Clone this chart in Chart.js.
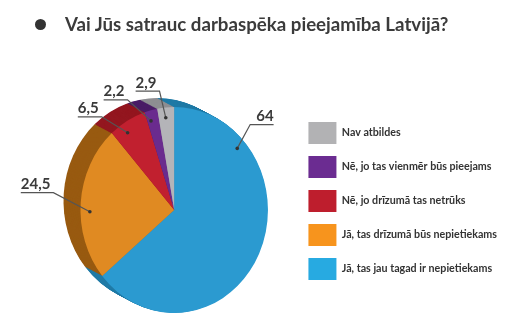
<!DOCTYPE html>
<html lang="lv">
<head>
<meta charset="utf-8">
<script src="https://cdn.jsdelivr.net/npm/chart.js@4.4.1/dist/chart.umd.min.js"></script>
<style>
  html, body { margin: 0; padding: 0; background: #fff; }
  #wrap { position: relative; width: 515px; height: 334px; }
  #virsraksts {
    position: absolute; left: 35px; top: 13px; margin: 0;
    font: 700 18.7px/22px Lato, sans-serif; color: #3b3b3b;
    display: flex; align-items: center; white-space: nowrap;
  }
  #virsraksts .punkts {
    width: 11px; height: 11px; border-radius: 50%; background: #333;
    margin-right: 19px; flex: none;
  }
  canvas { position: absolute; left: 0; top: 0; }
</style>
</head>
<body>
<div id="wrap">
  <canvas id="grafiks" width="515" height="334"></canvas>
  <h2 id="virsraksts"><span class="punkts"></span>Vai Jūs satrauc darbaspēka pieejamība Latvijā?</h2>
</div>
<script>
// dati
const kategorijas = [
  "Jā, tas jau tagad ir nepietiekams",
  "Jā, tas drīzumā būs nepietiekams",
  "Nē, jo drīzumā tas netrūks",
  "Nē, jo tas vienmēr būs pieejams",
  "Nav atbildes"
];
const vertibas = [64, 24.5, 6.5, 2.2, 2.9];
const etiketes = ["64", "24,5", "6,5", "2,2", "2,9"];

// krāsas
const virsmasKrasas = ["#2b9ad0", "#e08a22", "#c1202f", "#6a2b8e", "#b4b4b8"];
const sanuKrasas = ["#1f7aa6", "#985a10", "#93161f", "#4a1d66", "#8e8e92"];
const legendasKrasas = ["#27aae1", "#f7941d", "#be1e2d", "#6b2c91", "#b2b2b4"];

// etiķešu novietojums: daļa no sektora, leņķa nobīde (grādos), attālums (rādiusos)
const etiketesVieta = [0.21, 0.44, 0.35, 0.3, 0.45];
const etiketesNobide = [-4, 8.5, -7, -9, -2];
const etiketesAttalums = [1.16, 1.3, 1.19, 1.18, 1.165];

const SX = 0.91;      // elipses saspiedums horizontāli
const DZ_X = -17, DZ_Y = -9, SOLI = 24;

const dzilumsSpraudnis = {
  id: 'dzilums',
  beforeDatasetsDraw(chart) {
    const ctx = chart.ctx;
    const loki = chart.getDatasetMeta(0).data;
    if (!loki.length) return;
    const cx = loki[0].x, cy = loki[0].y;
    ctx.save();
    ctx.translate(cx, cy);
    ctx.scale(SX, 1);
    ctx.translate(-cx, -cy);
    for (let k = SOLI; k >= 1; k--) {
      const ox = DZ_X / SX * k / SOLI, oy = DZ_Y * k / SOLI;
      loki.forEach((loks, i) => {
        ctx.beginPath();
        ctx.moveTo(cx + ox, cy + oy);
        ctx.arc(cx + ox, cy + oy, loks.outerRadius, loks.startAngle, loks.endAngle);
        ctx.closePath();
        ctx.fillStyle = sanuKrasas[i];
        ctx.fill();
      });
    }
  },
  afterDatasetsDraw(chart) {
    chart.ctx.restore();
  }
};

const etiketesSpraudnis = {
  id: 'etiketes',
  afterDraw(chart) {
    const ctx = chart.ctx;
    const loki = chart.getDatasetMeta(0).data;
    ctx.save();
    ctx.font = '700 15px Lato, sans-serif';
    loki.forEach((loks, i) => {
      const cx = loks.x, cy = loks.y, R = loks.outerRadius;
      const a = loks.startAngle + (loks.endAngle - loks.startAngle) * etiketesVieta[i];
      const px = cx + Math.cos(a) * R * 0.9 * SX;
      const py = cy + Math.sin(a) * R * 0.9;
      const b = a + etiketesNobide[i] * Math.PI / 180;
      const ex = cx + Math.cos(b) * R * etiketesAttalums[i] * SX;
      const ey = cy + Math.sin(b) * R * etiketesAttalums[i];
      const tw = ctx.measureText(etiketes[i]).width;
      const palabi = Math.cos(b) > 0;
      const x2 = palabi ? ex + tw + 6 : ex - tw - 3;

      ctx.strokeStyle = '#555';
      ctx.lineWidth = 1.2;
      ctx.beginPath();
      ctx.moveTo(px, py);
      ctx.lineTo(ex, ey);
      ctx.lineTo(x2, ey);
      ctx.stroke();

      ctx.fillStyle = '#333';
      ctx.beginPath();
      ctx.arc(px, py, 1.8, 0, Math.PI * 2);
      ctx.fill();

      ctx.fillStyle = '#3a3a3a';
      ctx.textBaseline = 'alphabetic';
      ctx.textAlign = palabi ? 'right' : 'left';
      ctx.fillText(etiketes[i], x2, ey - 3.5);
    });
    ctx.restore();
  }
};

new Chart(document.getElementById('grafiks'), {
  type: 'pie',
  data: {
    labels: kategorijas,
    datasets: [{
      data: vertibas,
      backgroundColor: virsmasKrasas,
      borderWidth: 0,
      clip: false
    }]
  },
  options: {
    responsive: false,
    animation: false,
    radius: 103,
    layout: { padding: { left: 52, right: 8, top: 110, bottom: 24 } },
    plugins: {
      tooltip: { enabled: false },
      legend: {
        position: 'right',
        align: 'start',
        reverse: true,
        labels: {
          boxWidth: 28,
          boxHeight: 22,
          padding: 12,
          color: '#333',
          font: { family: 'Lato, sans-serif', weight: '700', size: 10.7 },
          generateLabels(chart) {
            const items = Chart.overrides.pie.plugins.legend.labels.generateLabels(chart);
            items.forEach(it => {
              it.fillStyle = legendasKrasas[it.index];
              it.strokeStyle = legendasKrasas[it.index];
              it.lineWidth = 0;
            });
            return items;
          }
        }
      }
    }
  },
  plugins: [dzilumsSpraudnis, etiketesSpraudnis]
});
</script>
</body>
</html>
